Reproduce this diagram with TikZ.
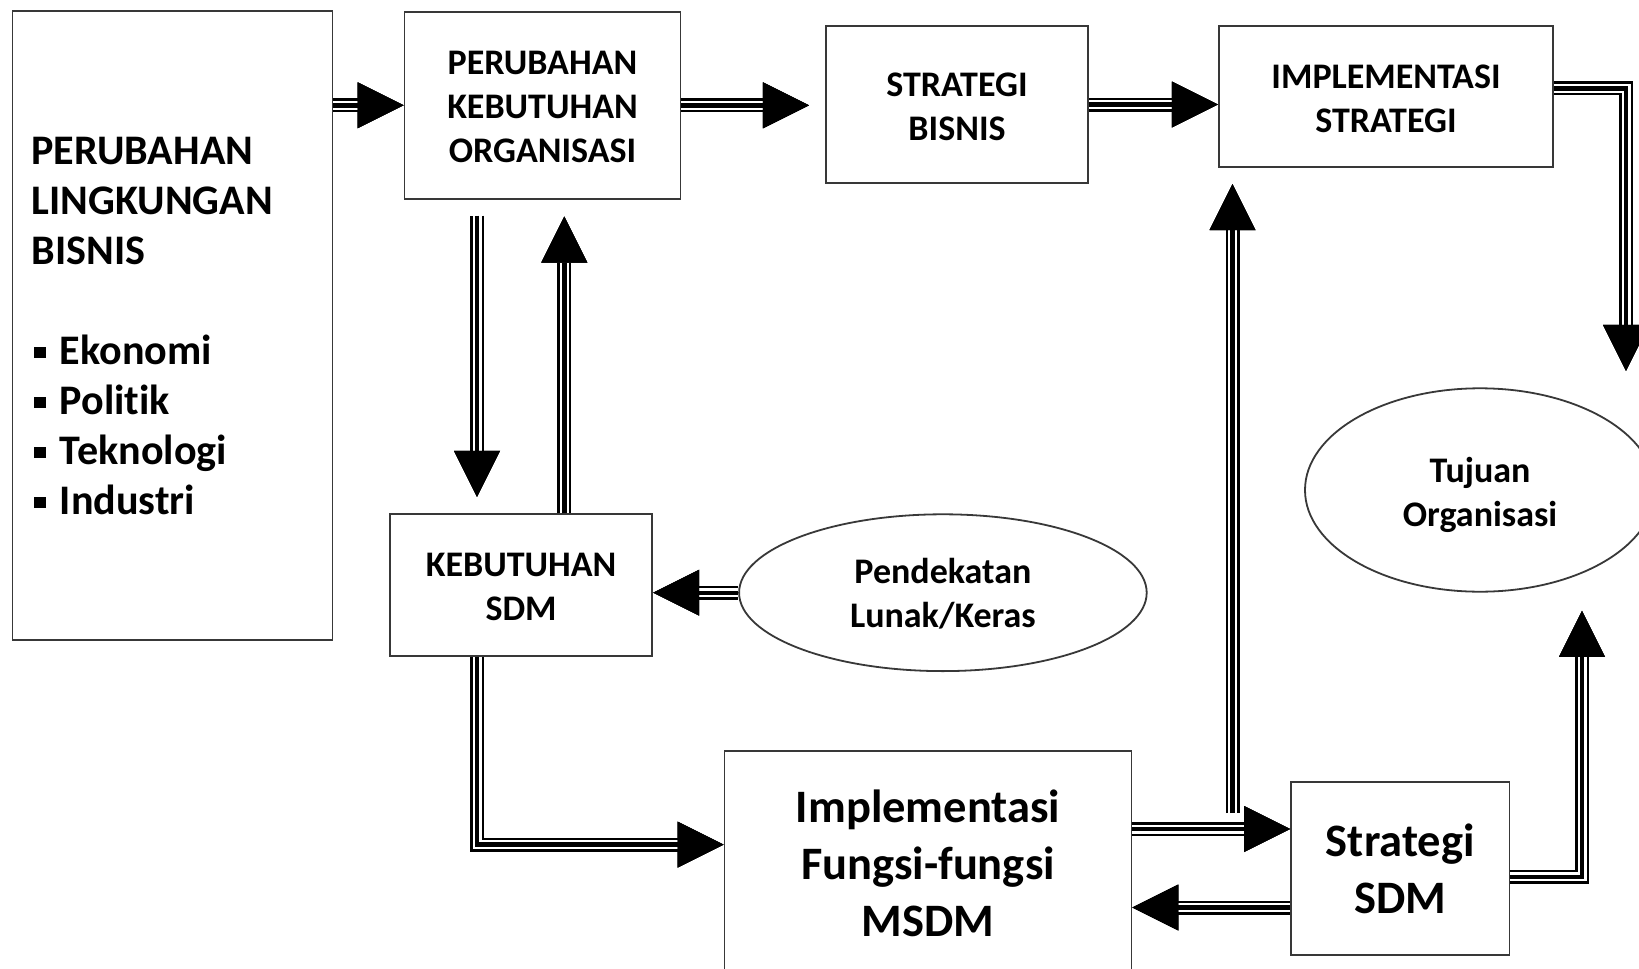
\documentclass[tikz,border=0pt]{standalone}
\usepackage{fontspec}
\setmainfont{Carlito}[Ligatures=CommonOff]
\usetikzlibrary{arrows.meta,shapes.geometric}

% square bullet used in the environment list
\newcommand\sqbullet{\hspace*{2.6pt}\rule[7pt]{12pt}{11pt}\hspace*{13.6pt}}
% invisible prop that sets the height of a first text line
\newcommand\firstline[1]{\rule{0pt}{#1}}

\tikzset{
  bigtip/.tip={Triangle[length=46pt,width=46pt,line width=0pt,color=black]},
  % thin / thick / thin striped connector with a large solid head
  triple/.style={draw=black, line width=14pt, line join=miter, -{bigtip},
    postaction={draw=white, line width=9pt, -{bigtip}},
    postaction={draw=black, line width=4.4pt, -{bigtip}}},
  frame/.style={draw=black!78, line width=1.8pt, fill=white, inner sep=0pt,
    align=center},
  small/.style={font=\bfseries\fontsize{36}{44}\selectfont},
  large/.style={font=\bfseries\fontsize{46.5}{57}\selectfont},
  oval/.style={frame, ellipse},
}

\begin{document}
\begin{tikzpicture}[x=1pt,y=-1pt]
\useasboundingbox (0,0) rectangle (1639,969);
\fill[white] (0,0) rectangle (1639,969);
\clip (0,0) rectangle (1639,969);

% boxes and ovals
\node[frame, minimum width=320pt, minimum height=628.7pt] (env) at (172.5,325.4) {};
\node[anchor=north west, inner sep=0pt, align=left,
      font=\bfseries\fontsize{42.1}{50}\selectfont] (envtext) at (31.4,137.4)
  {PERUBAHAN\\LINGKUNGAN\\BISNIS\\[50pt]\sqbullet Ekonomi\\\sqbullet Politik\\\sqbullet Teknologi\\\sqbullet Industri};

\node[frame, small, minimum width=276pt, minimum height=186.6pt] (orgneed) at (542.5,105.3)
  {\firstline{27.4pt}PERUBAHAN\\KEBUTUHAN\\ORGANISASI};
\node[frame, small, minimum width=262.4pt, minimum height=156.8pt] (bizstrat) at (957,104.5)
  {\firstline{27.4pt}STRATEGI\\BISNIS};
\node[frame, small, minimum width=334.5pt, minimum height=141.1pt] (implstrat) at (1386,96.7)
  {\firstline{27.4pt}IMPLEMENTASI\\STRATEGI};
\node[oval, small, minimum width=350pt, minimum height=203.4pt] (goals) at (1480,490)
  {\firstline{35.5pt}Tujuan\\Organisasi};
\node[frame, small, minimum width=262.4pt, minimum height=141.7pt] (hrneed) at (521.1,585.2)
  {\firstline{27.4pt}KEBUTUHAN\\SDM};
\node[oval, small, minimum width=407.6pt, minimum height=156.8pt] (approach) at (942.9,592.7)
  {\firstline{27.6pt}Pendekatan\\Lunak/Keras};
\node[frame, large, minimum width=407pt, minimum height=224pt] (hrfunc) at (928,863)
  {Implementasi\\Fungsi-fungsi\\MSDM};
\node[frame, large, minimum width=218.4pt, minimum height=173pt] (hrstrat) at (1400.2,868.4)
  {Strategi\\SDM};

% bend points and free ends of the connectors
\coordinate (xa) at (477,0);
\coordinate (xb) at (564.3,0);
\coordinate (c4) at (1626,88.3);
\coordinate (k8) at (477,844.6);
\coordinate (r9) at (0,829);
\coordinate (r10) at (0,907.5);
\coordinate (b11) at (1232.5,813);
\coordinate (c12) at (1582,876.7);

% connectors
\draw[triple] (env.east |- orgneed.west) -- (orgneed.west);
\draw[triple, shorten >=16pt] (orgneed.east) -- (orgneed.east -| bizstrat.west);
\draw[triple] (bizstrat.east) -- (bizstrat.east -| implstrat.west);
\draw[triple, shorten >=16.6pt] (implstrat.east |- c4) -- (c4) -- (c4 |- goals.north);
\draw[triple, shorten <=16pt, shorten >=16.6pt] (orgneed.south -| xa) -- (hrneed.north -| xa);
\draw[triple, shorten >=17pt] (hrneed.north -| xb) -- (orgneed.south -| xb);
\draw[triple] (approach.west) -- (approach.west -| hrneed.east);
\draw[triple] (hrneed.south -| k8) -- (k8) -- (k8 -| hrfunc.west);
\draw[triple] (hrfunc.east |- r9) -- (hrstrat.west |- r9);
\draw[triple] (hrstrat.west |- r10) -- (hrfunc.east |- r10);
\draw[triple, shorten >=16pt] (b11) -- (b11 |- implstrat.south);
\draw[triple, shorten >=18.3pt] (hrstrat.east |- c12) -- (c12) -- (c12 |- goals.south);
\end{tikzpicture}
\end{document}
